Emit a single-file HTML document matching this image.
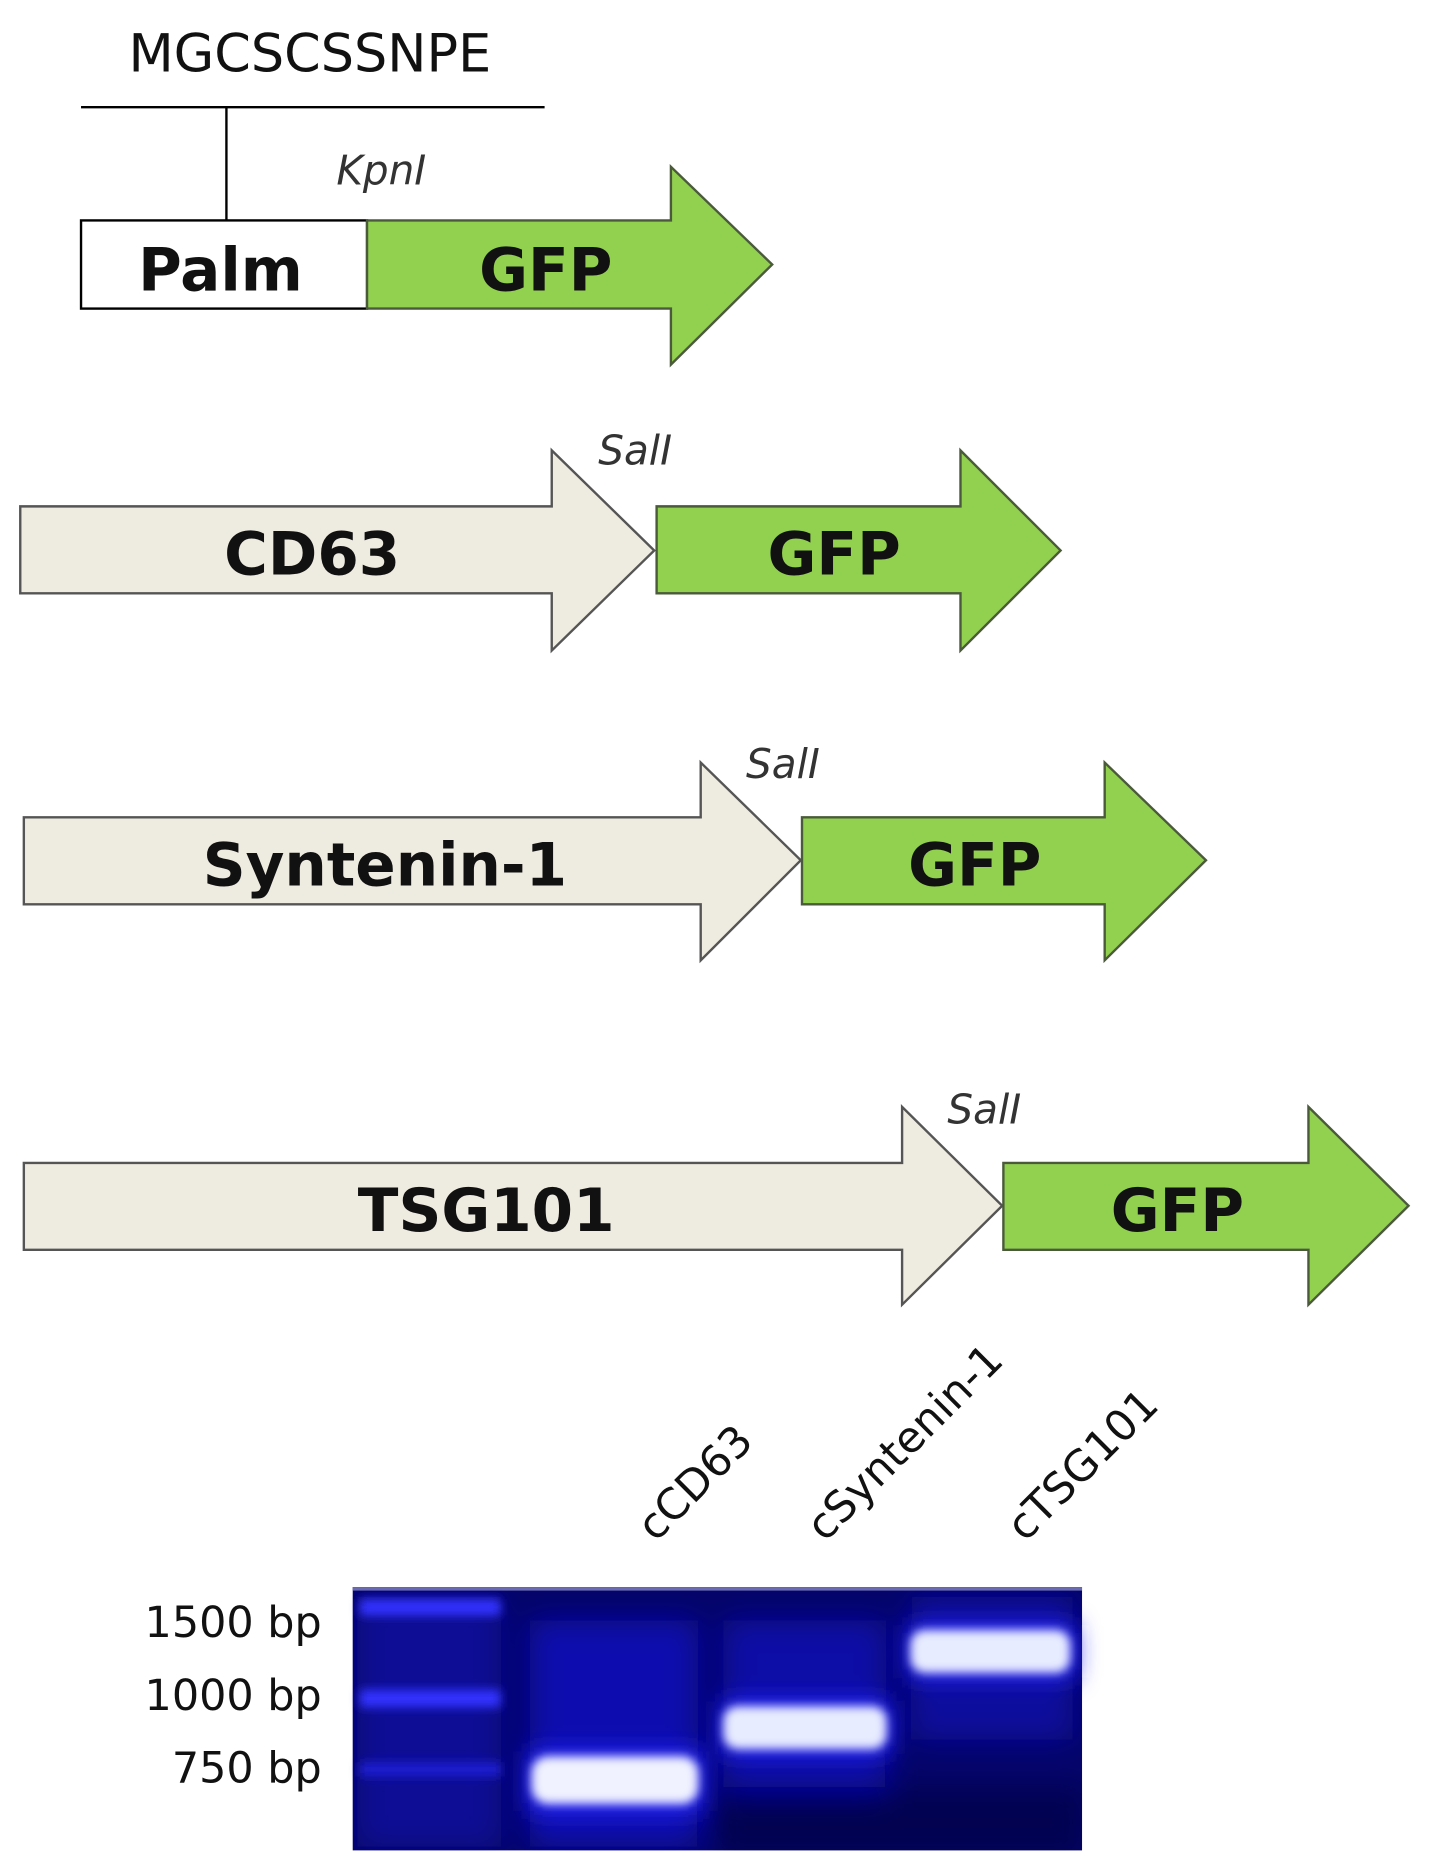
<!DOCTYPE html>
<html><head><meta charset="utf-8"><style>
html,body{margin:0;padding:0;background:#fff;}
svg{display:block;}
text{font-family:"DejaVu Sans","Liberation Sans",sans-serif;}
</style></head><body>
<svg width="1430" height="1873" viewBox="0 0 1200 1572" preserveAspectRatio="none" xmlns="http://www.w3.org/2000/svg">
<defs>
<filter id="bl" x="-20%" y="-50%" width="140%" height="200%"><feGaussianBlur stdDeviation="4"/></filter>
<filter id="bl2" x="-20%" y="-100%" width="140%" height="300%"><feGaussianBlur stdDeviation="10"/></filter>
<filter id="bl3" x="-20%" y="-20%" width="140%" height="140%"><feGaussianBlur stdDeviation="12"/></filter>
<clipPath id="gc"><rect x="296" y="1332" width="612" height="221"/></clipPath>
</defs>
<!-- Palm construct -->
<text x="260" y="60" font-size="44" text-anchor="middle" fill="#111">MGCSCSSNPE</text>
<line x1="68" y1="90" x2="457" y2="90" stroke="#000" stroke-width="2"/>
<line x1="190" y1="90" x2="190" y2="185" stroke="#000" stroke-width="2"/>
<text x="320" y="155" font-size="34" font-style="italic" text-anchor="middle" fill="#333">KpnI</text>
<rect x="68" y="185" width="240" height="74" fill="#fff" stroke="#000" stroke-width="2"/>
<text x="185" y="244" font-size="50" font-weight="bold" text-anchor="middle" fill="#111">Palm</text>
<polygon points="308,185 563,185 563,140 648,222 563,306 563,259 308,259" fill="#92d050" stroke="#4a5a3a" stroke-width="2"/>
<text x="458" y="244" font-size="50" font-weight="bold" text-anchor="middle" fill="#111">GFP</text>

<!-- CD63 -->
<polygon points="17,425 463,425 463,378 549,462 463,546 463,498 17,498" fill="#eeebe0" stroke="#555" stroke-width="2"/>
<text x="262" y="482" font-size="50" font-weight="bold" text-anchor="middle" fill="#111">CD63</text>
<polygon points="551,425 806,425 806,378 890,462 806,546 806,498 551,498" fill="#92d050" stroke="#4a5a3a" stroke-width="2"/>
<text x="700" y="482" font-size="50" font-weight="bold" text-anchor="middle" fill="#111">GFP</text>
<text x="533" y="390" font-size="34" font-style="italic" text-anchor="middle" fill="#333">SalI</text>

<!-- Syntenin -->
<polygon points="20,686 588,686 588,640 672,722 588,806 588,759 20,759" fill="#eeebe0" stroke="#555" stroke-width="2"/>
<text x="323" y="743" font-size="50" font-weight="bold" text-anchor="middle" fill="#111">Syntenin-1</text>
<polygon points="673,686 927,686 927,640 1012,722 927,806 927,759 673,759" fill="#92d050" stroke="#4a5a3a" stroke-width="2"/>
<text x="818" y="743" font-size="50" font-weight="bold" text-anchor="middle" fill="#111">GFP</text>
<text x="657" y="653" font-size="34" font-style="italic" text-anchor="middle" fill="#333">SalI</text>

<!-- TSG101 -->
<polygon points="20,976 757,976 757,929 841,1012 757,1095 757,1049 20,1049" fill="#eeebe0" stroke="#555" stroke-width="2"/>
<text x="408" y="1033" font-size="50" font-weight="bold" text-anchor="middle" fill="#111">TSG101</text>
<polygon points="842,976 1098,976 1098,929 1182,1012 1098,1095 1098,1049 842,1049" fill="#92d050" stroke="#4a5a3a" stroke-width="2"/>
<text x="988" y="1033" font-size="50" font-weight="bold" text-anchor="middle" fill="#111">GFP</text>
<text x="826" y="943" font-size="34" font-style="italic" text-anchor="middle" fill="#333">SalI</text>

<!-- lane labels -->
<text transform="translate(550,1295) rotate(-45)" font-size="36" fill="#111">cCD63</text>
<text transform="translate(692,1295) rotate(-45)" font-size="36" fill="#111">cSyntenin-1</text>
<text transform="translate(860,1295) rotate(-45)" font-size="36" fill="#111">cTSG101</text>

<!-- bp labels -->
<text x="270" y="1374" font-size="36" text-anchor="end" fill="#111">1500 bp</text>
<text x="270" y="1435" font-size="36" text-anchor="end" fill="#111">1000 bp</text>
<text x="270" y="1496" font-size="36" text-anchor="end" fill="#111">750 bp</text>

<!-- gel -->
<rect x="296" y="1332" width="612" height="221" fill="#04046a"/>
<g clip-path="url(#gc)">
<g filter="url(#bl3)">
<rect x="300" y="1340" width="120" height="210" fill="#0a0aa8" opacity="0.7"/>
<rect x="445" y="1360" width="140" height="190" fill="#0c0cc0" opacity="0.8"/>
<rect x="608" y="1360" width="135" height="150" fill="#0c0cc0" opacity="0.7"/>
<rect x="765" y="1340" width="135" height="120" fill="#0c0cc0" opacity="0.6"/>
<rect x="600" y="1500" width="310" height="60" fill="#020240" opacity="0.6"/>
</g>
</g>
<rect x="296" y="1332" width="612" height="3" fill="#6a6ab0"/>
<g filter="url(#bl)">
<rect x="302" y="1342" width="118" height="14" fill="#3030ff"/>
<rect x="302" y="1418" width="118" height="15" fill="#3030ff"/>
<rect x="302" y="1479" width="118" height="12" fill="#1c1cd0"/>
</g>
<g filter="url(#bl2)">
<rect x="443" y="1470" width="147" height="50" fill="#2828ff"/>
<rect x="605" y="1428" width="142" height="44" fill="#2828ff"/>
<rect x="762" y="1364" width="140" height="44" fill="#2828ff"/>
</g>
<g filter="url(#bl)">
<rect x="446" y="1474" width="140" height="40" rx="14" fill="#f0f2ff"/>
<rect x="607" y="1432" width="137" height="36" rx="12" fill="#e8ecff"/>
<rect x="764" y="1368" width="134" height="36" rx="12" fill="#e8ecff"/>
</g>
</svg>
</body></html>
